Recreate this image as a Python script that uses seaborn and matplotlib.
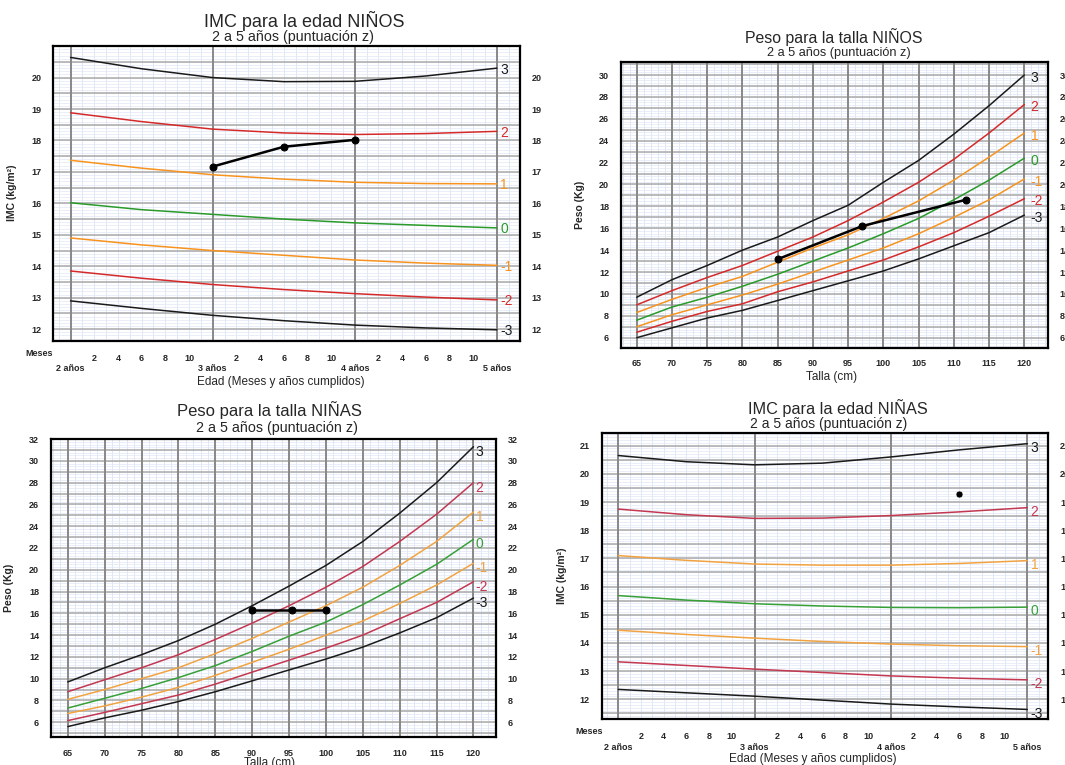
import numpy as np
import pandas as pd
import matplotlib
matplotlib.use('Agg')
import matplotlib.pyplot as plt
import seaborn as sns

sns.set_style('white')
plt.rcParams['font.family'] = ['Liberation Sans', 'DejaVu Sans']

# z-score curves, top to bottom
z_scores = ['3', '2', '1', '0', '-1', '-2', '-3']

# IMC para la edad (meses)
edad_meses = [24, 30, 36, 42, 48, 54, 60]
imc_ninos = [
    [20.64, 20.28, 20.00, 19.87, 19.88, 20.05, 20.30],
    [18.88, 18.60, 18.36, 18.24, 18.19, 18.22, 18.29],
    [17.37, 17.12, 16.91, 16.77, 16.67, 16.63, 16.62],
    [16.02, 15.80, 15.65, 15.50, 15.38, 15.30, 15.22],
    [14.90, 14.68, 14.50, 14.35, 14.20, 14.10, 14.03],
    [13.85, 13.62, 13.42, 13.26, 13.13, 13.02, 12.93],
    [12.90, 12.66, 12.44, 12.27, 12.13, 12.04, 11.98],
]
imc_ninas = [
    [20.65, 20.43, 20.32, 20.38, 20.60, 20.85, 21.07],
    [18.75, 18.55, 18.42, 18.43, 18.52, 18.65, 18.80],
    [17.10, 16.93, 16.80, 16.76, 16.76, 16.82, 16.92],
    [15.68, 15.52, 15.39, 15.31, 15.26, 15.25, 15.27],
    [14.45, 14.30, 14.17, 14.05, 13.96, 13.90, 13.87],
    [13.33, 13.20, 13.07, 12.95, 12.83, 12.75, 12.69],
    [12.35, 12.23, 12.11, 11.97, 11.83, 11.73, 11.64],
]

# Peso para la talla (cm)
talla_cm = [65, 70, 75, 80, 85, 90, 95, 100, 105, 110, 115, 120]
peso_ninos = [
    [9.7, 11.3, 12.6, 14.0, 15.2, 16.7, 18.1, 20.2, 22.2, 24.6, 27.2, 30.0],
    [9.0, 10.3, 11.5, 12.6, 13.9, 15.2, 16.7, 18.4, 20.2, 22.3, 24.7, 27.3],
    [8.3, 9.5, 10.6, 11.6, 12.9, 14.2, 15.4, 16.9, 18.5, 20.4, 22.5, 24.7],
    [7.6, 8.8, 9.7, 10.7, 11.8, 13.0, 14.2, 15.5, 16.9, 18.6, 20.4, 22.4],
    [7.0, 8.1, 9.0, 9.9, 10.9, 12.0, 13.1, 14.2, 15.5, 17.0, 18.6, 20.5],
    [6.5, 7.5, 8.4, 9.1, 10.2, 11.1, 12.1, 13.1, 14.3, 15.6, 17.1, 18.7],
    [6.0, 6.9, 7.8, 8.5, 9.4, 10.3, 11.2, 12.1, 13.2, 14.4, 15.6, 17.2],
]
peso_ninas = [
    [9.7, 11.0, 12.2, 13.5, 15.0, 16.7, 18.5, 20.4, 22.6, 25.2, 28.0, 31.3],
    [8.8, 9.9, 11.0, 12.2, 13.6, 15.1, 16.7, 18.4, 20.3, 22.6, 25.1, 28.0],
    [8.1, 9.0, 10.0, 11.0, 12.3, 13.7, 15.2, 16.7, 18.4, 20.4, 22.6, 25.3],
    [7.3, 8.2, 9.1, 10.1, 11.2, 12.5, 13.9, 15.2, 16.8, 18.6, 20.5, 22.8],
    [6.8, 7.5, 8.3, 9.2, 10.3, 11.5, 12.7, 14.0, 15.3, 16.9, 18.6, 20.6],
    [6.15, 6.9, 7.7, 8.5, 9.5, 10.6, 11.7, 12.8, 14.0, 15.5, 17.0, 18.9],
    [5.6, 6.4, 7.1, 7.9, 8.8, 9.8, 10.8, 11.8, 12.9, 14.2, 15.6, 17.4],
]

# mediciones del paciente
pac1_meses = [36, 42, 48]
pac1_imc = [17.17, 17.80, 18.02]
pac2_talla = [85.1, 97.0, 111.7]
pac2_peso = [13.2, 16.2, 18.6]
pac3_talla = [90.0, 95.4, 100.0]
pac3_peso = [16.35, 16.35, 16.35]
pac4_meses = [54]
pac4_imc = [19.3]

NEGRO, ROJO, NARANJA, VERDE = '#1a1a1a', '#d42a2a', '#f7931e', '#2a9a2a'
colores = dict(zip(z_scores, [NEGRO, ROJO, NARANJA, VERDE, NARANJA, ROJO, NEGRO]))
colores_ninas = dict(zip(z_scores, [NEGRO, '#c33750', '#f2a341', '#37a037',
                                    '#f2a341', '#c33750', NEGRO]))
AZUL, GRIS, GRIS_OSC = '#e1e8f5', '#aaaaaa', '#888888'

W, H = 1065, 765
fig = plt.figure(figsize=(W / 100, H / 100), dpi=100)


def axes_px(left, right, top, bottom):
    return fig.add_axes([left / W, 1 - bottom / H, (right - left) / W, (bottom - top) / H])


def papel(ax, xl, xd, yl, yd):
    for v in xl:
        ax.axvline(v, color=AZUL, lw=0.7, zorder=0)
    for v in yl:
        ax.axhline(v, color=AZUL, lw=0.5, zorder=0)
    for v in yd:
        ax.axhline(v, color=GRIS, lw=1.1, zorder=0.5)
    for v in xd:
        ax.axvline(v, color=GRIS_OSC, lw=1.4, zorder=0.6)


def curvas(ax, x, filas, pal, xlab, dy):
    df = pd.DataFrame({'x': np.tile(x, len(filas)),
                       'valor': np.concatenate(filas),
                       'z': np.repeat(z_scores, len(x))})
    sns.lineplot(data=df, x='x', y='valor', hue='z', palette=pal, legend=False,
                 estimator=None, lw=1.1, ax=ax, zorder=2)
    for z, fila in zip(z_scores, filas):
        ax.annotate(z, xy=(xlab, fila[-1]), xytext=(0, dy), textcoords='offset points',
                    ha='left', va='center', fontsize=10, color=pal[z])


def marco(ax, xlim, ylim, yticks, xpad):
    ax.set_xlim(*xlim)
    ax.set_ylim(*ylim)
    ax.set_yticks(yticks)
    ax.set_xlabel('')
    ax.set_ylabel('')
    ax.tick_params(axis='y', left=False, right=False, labelleft=True, labelright=True,
                   labelsize=6.5, pad=5)
    ax.tick_params(axis='x', bottom=False, labelsize=6.5, pad=xpad)
    for t in ax.yaxis.get_major_ticks():
        t.label1.set_fontweight('bold')
        t.label2.set_fontweight('bold')
    for t in ax.xaxis.get_major_ticks():
        t.label1.set_fontweight('bold')
    for s in ax.spines.values():
        s.set_visible(True)
        s.set_color('black')
        s.set_linewidth(1.6)
        s.set_zorder(5)


def ticks_edad(ax):
    pos = list(range(24, 61, 2))
    etiquetas = []
    for m in pos:
        if (m - 24) % 12 == 0:
            etiquetas.append('\n%d años' % (m // 12))
        else:
            etiquetas.append(str((m - 24) % 12))
    ax.set_xticks(pos, etiquetas)


# --- IMC para la edad NIÑOS ---
ax1 = axes_px(53.4, 520, 45.8, 340.5)
papel(ax1, range(23, 62), [24, 36, 48, 60], np.arange(11.7, 21.0, 0.1), np.arange(12, 21.01, 0.5))
curvas(ax1, edad_meses, imc_ninos, colores, 60.3, -1)
sns.lineplot(x=pac1_meses, y=pac1_imc, color='black', lw=1.8, marker='o', markersize=5,
             markeredgecolor='black', ax=ax1, zorder=4)
ticks_edad(ax1)
marco(ax1, (22.55, 61.95), (11.64, 21.01), range(12, 21), 6)
ax1.set_ylabel('IMC (kg/m²)', fontsize=7.5, fontweight='bold')
ax1.yaxis.set_label_coords(-0.078, 0.5)

# --- Peso para la talla NIÑOS ---
ax2 = axes_px(621, 1048, 62, 348)
papel(ax2, range(63, 124), range(65, 121, 5), np.arange(5.25, 31.2, 0.25), range(6, 32))
curvas(ax2, talla_cm, peso_ninos, colores, 120.9, -2)
sns.lineplot(x=pac2_talla, y=pac2_peso, color='black', lw=1.8, marker='o', markersize=5,
             markeredgecolor='black', ax=ax2, zorder=4)
ax2.set_xticks(talla_cm)
marco(ax2, (62.77, 123.36), (5.06, 31.19), range(6, 31, 2), 4.5)
ax2.set_ylabel('Peso (Kg)', fontsize=7.5, fontweight='bold')
ax2.yaxis.set_label_coords(-0.084, 0.5)

# --- Peso para la talla NIÑAS ---
ax3 = axes_px(51, 495.9, 439.1, 736.7)
papel(ax3, range(63, 124), range(65, 121, 5), np.arange(4.75, 32, 0.25), range(5, 33))
curvas(ax3, talla_cm, peso_ninas, colores_ninas, 120.3, -3.5)
sns.lineplot(x=pac3_talla, y=pac3_peso, color='black', lw=1.8, marker='o', markersize=5,
             markeredgecolor='black', ax=ax3, zorder=4)
ax3.set_xticks(talla_cm)
marco(ax3, (62.72, 123.04), (4.67, 32.0), range(6, 33, 2), 5)
ax3.set_ylabel('Peso (Kg)', fontsize=7.5, fontweight='bold')
ax3.yaxis.set_label_coords(-0.083, 0.5)

# --- IMC para la edad NIÑAS ---
ax4 = axes_px(601.7, 1048.3, 432.7, 719.3)
papel(ax4, range(23, 62), [24, 36, 48, 60], np.arange(11.3, 21.5, 0.1), np.arange(11.5, 21.5, 0.5))
curvas(ax4, edad_meses, imc_ninas, colores_ninas, 60.3, -3)
sns.scatterplot(x=pac4_meses, y=pac4_imc, color='black', s=25, ax=ax4, zorder=4)
ticks_edad(ax4)
marco(ax4, (22.54, 61.85), (11.29, 21.46), range(12, 22), 6)
ax4.set_ylabel('IMC (kg/m²)', fontsize=7.5, fontweight='bold')
ax4.yaxis.set_label_coords(-0.078, 0.5)


def txt(x, y, s, **kw):
    fig.text(x / W, 1 - y / H, s, ha='center', va='center', **kw)


txt(304, 20.7, 'IMC para la edad NIÑOS', fontsize=13)
txt(292.7, 37, '2 a 5 años (puntuación z)', fontsize=10.3)
txt(833.5, 36.7, 'Peso para la talla NIÑOS', fontsize=11.4)
txt(838.8, 53.3, '2 a 5 años (puntuación z)', fontsize=9.2)
txt(269, 410.5, 'Peso para la talla NIÑAS', fontsize=12)
txt(277, 427.7, '2 a 5 años (puntuación z)', fontsize=10.3)
txt(837.8, 407.7, 'IMC para la edad NIÑAS', fontsize=11.7)
txt(828.3, 424.3, '2 a 5 años (puntuación z)', fontsize=10)

txt(280.6, 381.8, 'Edad (Meses y años cumplidos)', fontsize=8.5)
txt(831.7, 376.7, 'Talla (cm)', fontsize=8.5)
txt(270, 763, 'Talla (cm)', fontsize=8.5)
txt(812.5, 759, 'Edad (Meses y años cumplidos)', fontsize=8.5)
txt(39.6, 353.2, 'Meses', fontsize=6.5, fontweight='bold')
txt(589.3, 731.7, 'Meses', fontsize=6.5, fontweight='bold')

fig.savefig('out.png', dpi=100, facecolor='white')
